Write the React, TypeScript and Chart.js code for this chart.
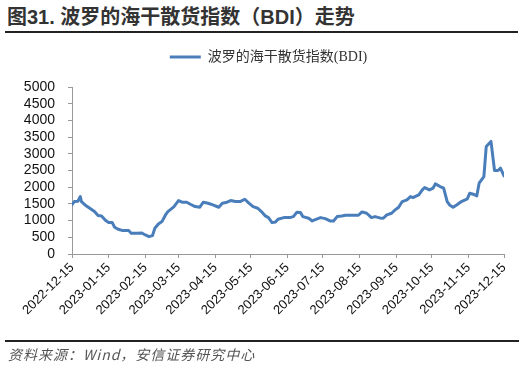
import React, { useEffect, useRef } from 'react';
import { Chart, registerables } from 'chart.js';

Chart.register(...registerables);

const titleText = '图31. 波罗的海干散货指数（BDI）走势';
const sourceText = '资料来源：Wind，安信证券研究中心';
const seriesName = '波罗的海干散货指数(BDI)';

const dates = [
  '2022-12-15', '2022-12-17', '2022-12-20', '2022-12-22', '2022-12-23', '2022-12-26', '2022-12-30',
  '2023-01-03', '2023-01-06', '2023-01-09', '2023-01-12', '2023-01-15', '2023-01-18', '2023-01-20',
  '2023-01-23', '2023-01-27', '2023-02-01', '2023-02-03', '2023-02-08', '2023-02-12', '2023-02-15',
  '2023-02-18', '2023-02-21', '2023-02-23', '2023-02-26', '2023-03-01', '2023-03-04', '2023-03-06',
  '2023-03-11', '2023-03-15', '2023-03-18', '2023-03-22', '2023-03-25', '2023-03-29', '2023-04-02',
  '2023-04-05', '2023-04-09', '2023-04-13', '2023-04-18', '2023-04-21', '2023-04-25', '2023-04-28',
  '2023-05-02', '2023-05-06', '2023-05-10', '2023-05-13', '2023-05-17', '2023-05-21', '2023-05-24',
  '2023-05-27', '2023-05-30', '2023-06-02', '2023-06-05', '2023-06-07', '2023-06-12', '2023-06-17',
  '2023-06-20', '2023-06-23', '2023-06-26', '2023-06-28', '2023-07-03', '2023-07-06', '2023-07-08',
  '2023-07-13', '2023-07-17', '2023-07-21', '2023-07-24', '2023-07-27', '2023-07-31', '2023-08-03',
  '2023-08-14', '2023-08-17', '2023-08-21', '2023-08-25', '2023-08-28', '2023-09-01', '2023-09-04',
  '2023-09-07', '2023-09-11', '2023-09-14', '2023-09-17', '2023-09-20', '2023-09-24', '2023-09-27',
  '2023-09-29', '2023-10-04', '2023-10-07', '2023-10-09', '2023-10-13', '2023-10-16', '2023-10-18',
  '2023-10-22', '2023-10-25', '2023-10-28', '2023-10-30', '2023-11-02', '2023-11-05', '2023-11-09',
  '2023-11-14', '2023-11-16', '2023-11-19', '2023-11-22', '2023-11-24', '2023-11-28', '2023-11-30',
  '2023-12-04', '2023-12-07', '2023-12-10', '2023-12-12', '2023-12-15',
];

const bdiValues = [
  1480, 1570, 1580, 1720, 1570, 1470, 1370,
  1270, 1150, 1140, 1020, 940, 940, 800,
  740, 700, 700, 620, 620, 630, 570,
  520, 550, 770, 900, 970, 1170, 1270,
  1410, 1600, 1550, 1550, 1490, 1420, 1400,
  1550, 1520, 1470, 1400, 1520, 1550, 1600,
  1570, 1570, 1640, 1540, 1420, 1370, 1270,
  1150, 1090, 940, 960, 1040, 1090, 1090,
  1120, 1250, 1240, 1120, 1070, 990, 1020,
  1090, 1060, 990, 990, 1120, 1140, 1160,
  1160, 1260, 1220, 1090, 1120, 1080, 1070,
  1170, 1220, 1320, 1400, 1570, 1620, 1720,
  1690, 1770, 1920, 1990, 1920, 1970, 2100,
  2020, 1970, 1570, 1470, 1400, 1470, 1570,
  1650, 1820, 1790, 1740, 2120, 2320, 3220,
  3370, 2500, 2500, 2570, 2340,
];

const xTickLabels = [
  '2022-12-15', '2023-01-15', '2023-02-15', '2023-03-15', '2023-04-15', '2023-05-15',
  '2023-06-15', '2023-07-15', '2023-08-15', '2023-09-15', '2023-10-15', '2023-11-15', '2023-12-15',
];

const yMin = 0;
const yMax = 5000;
const yStep = 500;

const DAY = 86400000;
const origin = Date.parse(xTickLabels[0]);
const dayOf = (s: string) => (Date.parse(s) - origin) / DAY;

const legendGap = {
  id: 'legendGap',
  beforeLayout(chart: any) {
    const lg = chart.legend;
    if (lg && !lg._gapWrapped) {
      const f = lg.fit.bind(lg);
      lg.fit = () => {
        f();
        lg.height += 13;
      };
      lg._gapWrapped = true;
    }
  },
};

export default function App() {
  const ref = useRef<HTMLCanvasElement | null>(null);

  useEffect(() => {
    if (!ref.current) return;
    const points = dates.map((d, i) => ({ x: dayOf(d), y: bdiValues[i] }));
    const tickValues = xTickLabels.map(dayOf);
    const chart = new Chart(ref.current, {
      type: 'line',
      data: {
        datasets: [
          {
            label: seriesName,
            data: points,
            borderColor: '#4a7ebb',
            backgroundColor: '#4a7ebb',
            borderWidth: 3,
            pointRadius: 0,
            tension: 0,
            borderJoinStyle: 'round',
            borderCapStyle: 'round',
          },
        ],
      },
      options: {
        responsive: false,
        animation: false,
        devicePixelRatio: 1,
        layout: { padding: { left: 18, right: 6, top: 40, bottom: 0 } },
        plugins: {
          legend: {
            display: true,
            position: 'top',
            labels: {
              usePointStyle: true,
              pointStyle: 'line',
              pointStyleWidth: 31,
              padding: 10,
              color: '#333',
              font: { family: '"Liberation Serif", "Noto Sans CJK SC"', size: 14 },
            },
          },
          tooltip: { enabled: false },
        },
        scales: {
          x: {
            type: 'linear',
            min: tickValues[0],
            max: tickValues[tickValues.length - 1],
            afterBuildTicks: (s: any) => {
              s.ticks = tickValues.map((v) => ({ value: v }));
            },
            afterFit: (s: any) => {
              s.height = 113;
            },
            ticks: {
              autoSkip: false,
              minRotation: 45,
              maxRotation: 45,
              padding: 2,
              color: '#111',
              font: { family: '"Liberation Sans", Arial', size: 13 },
              callback: (_v: any, i: number) => xTickLabels[i],
            },
            grid: { drawOnChartArea: false, drawTicks: true, tickLength: 4, color: '#999' },
            border: { display: true, color: '#999', width: 1 },
          },
          y: {
            min: yMin,
            max: yMax,
            afterFit: (s: any) => {
              s.width = 54;
            },
            ticks: {
              stepSize: yStep,
              autoSkip: false,
              padding: 13,
              color: '#111',
              font: { family: '"Liberation Sans", Arial', size: 14 },
              callback: (v: any) => String(v),
            },
            grid: { drawOnChartArea: false, drawTicks: true, tickLength: 4, color: '#999' },
            border: { display: true, color: '#999', width: 1 },
          },
          yRightSpace: {
            type: 'linear',
            position: 'right',
            display: true,
            min: yMin,
            max: yMax,
            afterFit: (s: any) => {
              s.width = 15;
            },
            ticks: { display: false },
            grid: { display: false, drawTicks: false },
            border: { display: false },
          },
        },
      },
      plugins: [legendGap],
    });
    return () => chart.destroy();
  }, []);

  return (
    <div style={{ position: 'absolute', left: 0, top: 0, width: 525, height: 367, background: '#fff', overflow: 'hidden' }}>
      <div
        style={{
          position: 'absolute',
          left: 7,
          top: 6,
          fontFamily: '"Liberation Sans", "Noto Sans CJK SC", sans-serif',
          fontWeight: 'bold',
          fontSize: 20,
          lineHeight: '22px',
          color: '#333',
          whiteSpace: 'nowrap',
        }}
      >
        {titleText}
      </div>
      <div style={{ position: 'absolute', left: 5, top: 31, width: 513, height: 2, background: '#222' }} />
      <canvas ref={ref} width={525} height={367} style={{ position: 'absolute', left: 0, top: 0, width: 525, height: 367 }} />
      <div style={{ position: 'absolute', left: 5, top: 340, width: 514, height: 2, background: '#222' }} />
      <div
        style={{
          position: 'absolute',
          left: 8,
          top: 345,
          fontFamily: '"Noto Sans CJK SC", sans-serif',
          fontStyle: 'italic',
          fontSize: 14,
          letterSpacing: 1,
          lineHeight: '18px',
          color: '#555',
          whiteSpace: 'nowrap',
        }}
      >
        {sourceText}
      </div>
    </div>
  );
}
